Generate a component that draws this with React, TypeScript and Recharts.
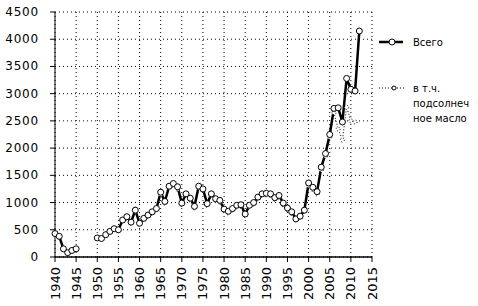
import React from 'react';
import { LineChart, Line, XAxis, YAxis, CartesianGrid } from 'recharts';

const years = [
  1940, 1941, 1942, 1943, 1944, 1945, 1946, 1947, 1948, 1949,
  1950, 1951, 1952, 1953, 1954, 1955, 1956, 1957, 1958, 1959,
  1960, 1961, 1962, 1963, 1964, 1965, 1966, 1967, 1968, 1969,
  1970, 1971, 1972, 1973, 1974, 1975, 1976, 1977, 1978, 1979,
  1980, 1981, 1982, 1983, 1984, 1985, 1986, 1987, 1988, 1989,
  1990, 1991, 1992, 1993, 1994, 1995, 1996, 1997, 1998, 1999,
  2000, 2001, 2002, 2003, 2004, 2005, 2006, 2007, 2008, 2009,
  2010, 2011, 2012,
];

const total: (number | null)[] = [
  430, 380, 150, 80, 120, 150, null, null, null, null,
  350, 340, 410, 470, 520, 500, 680, 740, 640, 860,
  620, 710, 770, 830, 890, 1190, 1020, 1300, 1350, 1290,
  990, 1160, 1080, 930, 1300, 1250, 980, 1160, 1070, 1040,
  880, 840, 890, 950, 960, 790, 950, 1000, 1100, 1160,
  1170, 1160, 1090, 1130, 990, 900, 830, 700, 750, 860,
  1360, 1280, 1200, 1650, 1900, 2250, 2730, 2740, 2480, 3280,
  3080, 3050, 4150,
];

const sunflower: (number | null)[] = [
  420, 370, 140, 75, 115, 145, null, null, null, null,
  340, 330, 400, 455, 505, 485, 660, 715, 620, 835,
  600, 690, 750, 805, 865, 1150, 990, 1270, 1320, 1250,
  960, 1130, 1050, 900, 1270, 1220, 950, 1130, 1040, 1010,
  850, 810, 860, 920, 930, 760, 920, 970, 1070, 1130,
  1140, 1130, 1060, 1100, 960, 870, 800, 680, 725, 835,
  1310, 1240, 1160, 1600, 1850, 2200, 2650, 2350, 2150, 2750,
  2500, 2480, null,
];

const xTicks = [1940, 1945, 1950, 1955, 1960, 1965, 1970, 1975, 1980, 1985, 1990, 1995, 2000, 2005, 2010, 2015];
const yTicks = [0, 500, 1000, 1500, 2000, 2500, 3000, 3500, 4000, 4500];

const legendTotal = 'Всего';
const legendSunflower = ['в т.ч.', 'подсолнеч', 'ное масло'];

const data = years.map((y, i) => ({ year: y, total: total[i], sunflower: sunflower[i] }));

const FONT = '"DejaVu Sans", sans-serif';

const XTick = (props: any) => {
  const { x, y, payload } = props;
  return (
    <text
      x={0}
      y={0}
      transform={`translate(${x},${y + 2}) rotate(-90)`}
      textAnchor="end"
      dominantBaseline="central"
      fontFamily={FONT}
      fontSize={13}
      fill="#000"
    >
      {payload.value}
    </text>
  );
};

const YTick = (props: any) => {
  const { x, y, payload } = props;
  return (
    <text
      x={x}
      y={y}
      textAnchor="end"
      dominantBaseline="central"
      fontFamily={FONT}
      fontSize={12}
      letterSpacing={0.8}
      fill="#000"
    >
      {payload.value}
    </text>
  );
};

export default function App() {
  return (
    <div style={{ position: 'absolute', left: 0, top: 0, width: 478, height: 306, background: '#fff' }}>
      <LineChart width={478} height={306} data={data} margin={{ top: 12, right: 106, bottom: 0, left: 10 }}>
        <CartesianGrid stroke="#000" strokeDasharray="1 3" />
        <XAxis
          dataKey="year"
          type="number"
          domain={[1940, 2015]}
          ticks={xTicks}
          interval={0}
          height={49}
          tickSize={5}
          tickMargin={3}
          axisLine={{ stroke: '#000', strokeWidth: 1.5 }}
          tickLine={{ stroke: '#000' }}
          tick={<XTick />}
        />
        <YAxis
          type="number"
          domain={[0, 4500]}
          ticks={yTicks}
          interval={0}
          width={45}
          tickSize={5}
          tickMargin={11}
          axisLine={{ stroke: '#000' }}
          tickLine={{ stroke: '#000' }}
          tick={<YTick />}
        />
        <Line
          dataKey="sunflower"
          stroke="#000"
          strokeWidth={1}
          strokeDasharray="1 2"
          dot={{ r: 2, fill: '#fff', stroke: '#000', strokeWidth: 1 }}
          isAnimationActive={false}
          connectNulls={false}
        />
        <Line
          dataKey="total"
          stroke="#000"
          strokeWidth={2.5}
          dot={{ r: 3, fill: '#fff', stroke: '#000', strokeWidth: 1 }}
          isAnimationActive={false}
          connectNulls={false}
        />
      </LineChart>
      <svg style={{ position: 'absolute', left: 0, top: 0 }} width={478} height={306}>
        <line x1={379} y1={42} x2={403} y2={42} stroke="#000" strokeWidth={2.5} />
        <circle cx={392} cy={42} r={3} fill="#fff" stroke="#000" strokeWidth={1} />
        <text x={413} y={42} dominantBaseline="central" fontFamily={FONT} fontSize={10} fill="#000">
          {legendTotal}
        </text>
        <line x1={379} y1={88} x2={406} y2={88} stroke="#000" strokeWidth={1} strokeDasharray="1 2" />
        <circle cx={394} cy={88} r={2} fill="#fff" stroke="#000" strokeWidth={1} />
        {legendSunflower.map((t, i) => (
          <text key={i} x={413} y={88 + i * 15} dominantBaseline="central" fontFamily={FONT} fontSize={10} fill="#000">
            {t}
          </text>
        ))}
      </svg>
    </div>
  );
}
